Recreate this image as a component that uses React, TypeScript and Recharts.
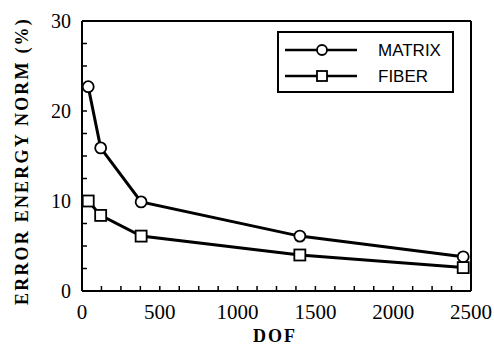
import React from "react";
import { LineChart, Line, XAxis, YAxis, ReferenceLine, Legend } from "recharts";

const dof = [40, 120, 380, 1400, 2450];
const matrix = [22.7, 15.9, 9.9, 6.1, 3.8];
const fiber = [10.0, 8.4, 6.1, 4.0, 2.6];
const xTicks = [0, 125, 250, 375, 500, 625, 750, 875, 1000, 1125, 1250, 1375, 1500, 1625, 1750, 1875, 2000, 2125, 2250, 2375, 2500];
const xLabels = [0, 500, 1000, 1500, 2000, 2500];
const yTicks = [0, 2.5, 5, 7.5, 10, 12.5, 15, 17.5, 20, 22.5, 25, 27.5, 30];
const yLabels = [0, 10, 20, 30];

const data = dof.map((d, i) => ({ dof: d, matrix: matrix[i], fiber: fiber[i] }));

const SERIF = "Liberation Serif, Times New Roman, serif";
const SANS = "Liberation Sans, Arial, sans-serif";

const renderXTick = (props: any) => {
  const { x, y, payload } = props;
  if (!xLabels.includes(payload.value)) return <g key={"xt" + payload.value} />;
  return (
    <text
      key={"xt" + payload.value}
      x={x}
      y={y - 2}
      textAnchor="middle"
      dy="0.71em"
      fontFamily={SERIF}
      fontSize={21}
      fill="#000"
    >
      {payload.value}
    </text>
  );
};

const renderYTick = (props: any) => {
  const { x, y, payload } = props;
  if (!yLabels.includes(payload.value)) return <g key={"yt" + payload.value} />;
  return (
    <text
      key={"yt" + payload.value}
      x={x}
      y={y}
      textAnchor="end"
      dy="0.35em"
      fontFamily={SERIF}
      fontSize={20}
      fill="#000"
    >
      {payload.value}
    </text>
  );
};

const Circle = (props: any) => {
  const { cx, cy } = props;
  if (cx == null || cy == null) return <g />;
  return <circle cx={cx} cy={cy} r={5.5} fill="#fff" stroke="#000" strokeWidth={1.8} />;
};

const Square = (props: any) => {
  const { cx, cy } = props;
  if (cx == null || cy == null) return <g />;
  return <rect x={cx - 5.5} y={cy - 5.5} width={11} height={11} fill="#fff" stroke="#000" strokeWidth={1.8} />;
};

const LegendContent = (props: any) => {
  const items = [
    { label: "MATRIX", shape: "circle" },
    { label: "FIBER", shape: "square" },
  ];
  return (
    <div
      style={{
        position: "absolute",
        left: 277,
        top: 31,
        width: 173,
        height: 58,
        border: "2px solid #000",
        background: "#fff",
      }}
    >
      <svg width={173} height={58} style={{ position: "absolute", left: 0, top: 0 }}>
        {items.map((it, i) => {
          const cy = 17 + i * 26;
          return (
            <g key={it.label}>
              <line x1={6} x2={78} y1={cy} y2={cy} stroke="#000" strokeWidth={2.5} />
              {it.shape === "circle" ? (
                <circle cx={43} cy={cy} r={5} fill="#fff" stroke="#000" strokeWidth={1.8} />
              ) : (
                <rect x={38} y={cy - 5} width={10} height={10} fill="#fff" stroke="#000" strokeWidth={1.8} />
              )}
              <text x={99} y={cy} dy="0.36em" fontFamily={SANS} fontSize={17} fill="#000">
                {it.label}
              </text>
            </g>
          );
        })}
      </svg>
    </div>
  );
};

const YLabel = () => (
  <text
    x={22}
    y={161}
    transform="rotate(-90, 22, 161)"
    textAnchor="middle"
    dy="0.35em"
    fontFamily={SERIF}
    fontWeight="bold"
    fontSize={18}
    letterSpacing={2.2}
    fill="#000"
  >
    ERROR ENERGY NORM (%)
  </text>
);

const XLabel = () => (
  <text
    x={275}
    y={342}
    textAnchor="middle"
    fontFamily={SERIF}
    fontWeight="bold"
    fontSize={18}
    letterSpacing={2}
    fill="#000"
  >
    DOF
  </text>
);

export default function App() {
  return (
    <div style={{ position: "absolute", left: 0, top: 0, width: 494, height: 349, background: "#fff" }}>
      <LineChart width={494} height={349} data={data} margin={{ top: 21, right: 23, left: 0, bottom: 0 }}>
        <XAxis
          dataKey="dof"
          type="number"
          domain={[0, 2500]}
          ticks={xTicks}
          interval={0}
          tick={renderXTick}
          tickSize={-5}
          tickMargin={20}
          axisLine={{ stroke: "#000", strokeWidth: 2 }}
          tickLine={{ stroke: "#000", strokeWidth: 1.5 }}
          height={58}
          label={<XLabel />}
        />
        <YAxis
          type="number"
          domain={[0, 30]}
          ticks={yTicks}
          interval={0}
          tick={renderYTick}
          tickSize={-5}
          tickMargin={16}
          axisLine={{ stroke: "#000", strokeWidth: 2 }}
          tickLine={{ stroke: "#000", strokeWidth: 1.5 }}
          width={82}
          label={<YLabel />}
        />
        <ReferenceLine y={30} stroke="#000" strokeWidth={2} />
        <ReferenceLine x={2500} stroke="#000" strokeWidth={2} />
        <Legend content={<LegendContent />} wrapperStyle={{ position: "absolute", left: 0, top: 0, width: 0, height: 0 }} />
        <Line
          type="linear"
          dataKey="matrix"
          name="MATRIX"
          stroke="#000"
          strokeWidth={3}
          dot={<Circle />}
          isAnimationActive={false}
        />
        <Line
          type="linear"
          dataKey="fiber"
          name="FIBER"
          stroke="#000"
          strokeWidth={3}
          dot={<Square />}
          isAnimationActive={false}
        />
      </LineChart>
    </div>
  );
}
